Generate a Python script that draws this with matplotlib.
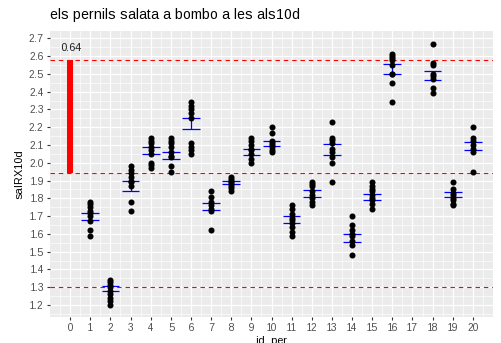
import matplotlib
matplotlib.use("Agg")
import matplotlib.pyplot as plt
import numpy as np

plt.rcParams['font.family'] = ['Liberation Sans', 'DejaVu Sans']
plt.rcParams['text.hinting'] = 'auto'
plt.rcParams['text.hinting_factor'] = 1

# salRX10d per pernil, agrupat per id_per
groups = [1, 2, 3, 4, 5, 6, 7, 8, 9, 10, 11, 12, 13, 14, 15, 16, 18, 19, 20]
values = [
    [1.78, 1.77, 1.75, 1.73, 1.72, 1.70, 1.67, 1.62, 1.59],
    [1.34, 1.33, 1.31, 1.30, 1.28, 1.26, 1.24, 1.22, 1.20],
    [1.98, 1.96, 1.94, 1.92, 1.90, 1.89, 1.87, 1.78, 1.73],
    [2.14, 2.12, 2.11, 2.09, 2.07, 2.05, 2.00, 1.99, 1.97],
    [2.14, 2.12, 2.11, 2.09, 2.06, 2.04, 2.03, 1.98, 1.95],
    [2.34, 2.32, 2.30, 2.28, 2.25, 2.11, 2.09, 2.07, 2.05],
    [1.84, 1.81, 1.78, 1.76, 1.74, 1.73, 1.62],
    [1.92, 1.91, 1.90, 1.89, 1.88, 1.87, 1.86, 1.84],
    [2.14, 2.12, 2.10, 2.08, 2.07, 2.05, 2.02, 2.00],
    [2.20, 2.17, 2.12, 2.11, 2.10, 2.09, 2.07, 2.06],
    [1.76, 1.74, 1.71, 1.69, 1.68, 1.66, 1.64, 1.61, 1.59],
    [1.89, 1.88, 1.87, 1.84, 1.82, 1.80, 1.78, 1.76],
    [2.23, 2.14, 2.13, 2.11, 2.08, 2.06, 2.03, 2.00, 1.89],
    [1.70, 1.65, 1.62, 1.60, 1.59, 1.56, 1.54, 1.48],
    [1.89, 1.87, 1.85, 1.84, 1.82, 1.80, 1.79, 1.77, 1.74],
    [2.61, 2.60, 2.59, 2.58, 2.55, 2.50, 2.50, 2.45, 2.34],
    [2.67, 2.56, 2.55, 2.50, 2.49, 2.47, 2.42, 2.39],
    [1.89, 1.85, 1.83, 1.82, 1.80, 1.79, 1.77, 1.76],
    [2.20, 2.14, 2.12, 2.10, 2.08, 2.06, 1.95],
]
# mitjana +- error estandard
err_lo = [1.679, 1.277, 1.840, 2.052, 2.020, 2.192, 1.735, 1.878, 2.046, 2.097,
          1.661, 1.810, 2.044, 1.557, 1.792, 2.499, 2.466, 1.805, 2.073]
err_hi = [1.720, 1.305, 1.900, 2.089, 2.063, 2.254, 1.771, 1.897, 2.078, 2.125,
          1.698, 1.844, 2.104, 1.599, 1.825, 2.556, 2.518, 1.835, 2.114]

limits = [2.58, 1.94, 1.30]
range_x = 0
range_lo = 1.94
range_hi = 2.58
range_txt = "0.64"

yticks = [1.2, 1.3, 1.4, 1.5, 1.6, 1.7, 1.8, 1.9, 2.0, 2.1, 2.2, 2.3, 2.4, 2.5, 2.6, 2.7]

fig = plt.figure(figsize=(5.01, 3.43), dpi=100)
ax = fig.add_axes([50 / 501, 1 - 317 / 343, 443 / 501, 286 / 343])
ax.set_facecolor('#EBEBEB')
for s in ax.spines.values():
    s.set_visible(False)

ax.set_xlim(-1, 21)
ax.set_ylim(1.1325, 2.741)
ax.set_xticks(np.arange(0, 21))
ax.set_xticks(np.arange(-0.5, 21, 1), minor=True)
ax.set_yticks(yticks)
ax.set_yticklabels(['%.1f' % v for v in yticks])
ax.set_yticks(np.arange(1.15, 2.75, 0.1), minor=True)
ax.grid(which='major', color='white', lw=0.9)
ax.grid(which='minor', color='white', lw=0.45)
ax.set_axisbelow(True)
ax.tick_params(which='major', length=2.5, width=0.8, color='#333333',
               labelsize=7, labelcolor='#4D4D4D', pad=2)
ax.tick_params(which='minor', length=0)

# barra del rang entre limits
ax.bar([range_x], [range_hi - range_lo], bottom=range_lo, width=0.28,
       color='red', zorder=2)
ax.text(range_x, 2.648, range_txt, ha='center', va='center', fontsize=8,
        color='#222222')

for y in limits:
    ln = ax.axhline(y, color='red', lw=0.8, zorder=2)
    ln.set_dashes((4, 3.5))

for g, lo, hi in zip(groups, err_lo, err_hi):
    ax.vlines(g, lo, hi, color='blue', lw=0.9, zorder=3)
    ax.hlines([lo, hi], g - 0.44, g + 0.44, color='blue', lw=0.9, zorder=3)

for g, vals in zip(groups, values):
    ax.scatter(np.full(len(vals), g), vals, s=19, color='black', zorder=4,
               linewidths=0)

ax.set_title("els pernils salata a bombo a les als10d", loc='left',
             fontsize=9.8, pad=9, x=0.0)
ax.set_ylabel("salRX10d", fontsize=8, labelpad=3)
ax.set_xlabel("id_per", fontsize=8, labelpad=2)

fig.savefig("out.png", dpi=100)
